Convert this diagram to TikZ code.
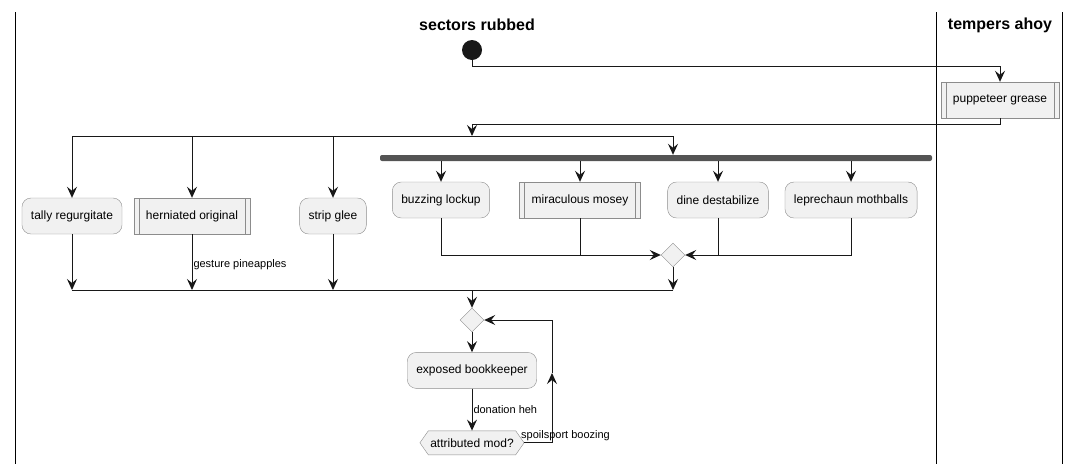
\documentclass[tikz,border=0pt]{standalone}
\usepackage{fontspec}
\setmainfont{Liberation Sans}
\usepackage{tikz}
\usetikzlibrary{arrows.meta,positioning,shapes.geometric,shapes.symbols}
\definecolor{bg}{HTML}{F1F1F1}
\definecolor{ink}{HTML}{181818}
\colorlet{bd}{black!45}
\colorlet{br}{black!67}
\tikzset{act/.style={rectangle, rounded corners=9pt, draw=bd, fill=bg, minimum height=36pt,
            inner xsep=9pt, font=\fontsize{12}{14}\selectfont},
         sub/.style={act, rounded corners=0pt, inner xsep=12pt, path picture={
            \draw[bd] ([xshift=5pt]path picture bounding box.north west) -- ([xshift=5pt]path picture bounding box.south west);
            \draw[bd] ([xshift=-5pt]path picture bounding box.north east) -- ([xshift=-5pt]path picture bounding box.south east);}},
         dec/.style={diamond, draw=bd, fill=bg, minimum size=24pt, inner sep=0pt},
         test/.style={signal, signal to=west and east, signal pointer angle=110, draw=bd, fill=bg,
            minimum height=24pt, inner xsep=2pt, font=\fontsize{12}{14}\selectfont},
         lane/.style={font=\bfseries\fontsize{16}{19}\selectfont},
         lbl/.style={font=\fontsize{11}{13}\selectfont, inner sep=1pt},
         wire/.style={draw=ink, line width=1pt},
         arr/.style={wire, -{Stealth[length=11pt,width=10pt,inset=4pt]}}}

\begin{document}
\begin{tikzpicture}[x=1pt, y=-1pt]
\useasboundingbox (0,0) rectangle (1083,464);
% swimlanes
\draw[line width=1pt] (15,12) -- (15,464);
\draw[line width=1pt] (936,12) -- (936,464);
\draw[line width=1pt] (1062,12) -- (1062,464);
\node[lane] (lane1) at (477,25) {sectors rubbed};
\node[lane] (lane2) at (1000,25) {tempers ahoy};

\node[circle, fill=ink, minimum size=20pt, inner sep=0pt] (start) at (472,50) {};
\node[sub] (pup) at (1000,100) {puppeteer grease};

% split
\coordinate (spl) at (72,136);
\coordinate (spr) at (673,136);
\node[rectangle, fill=br, rounded corners=2pt, minimum width=552pt, minimum height=6pt, inner sep=0pt] (bar) at (656,158) {};

\node[act] (tally) at (72,216) {tally regurgitate};
\node[sub] (hern) at (192,216) {herniated original};
\node[act] (strip) at (333,216) {strip glee};
\node[act] (buzz) at (441,200) {buzzing lockup};
\node[sub] (mosey) at (580,200) {miraculous mosey};
\node[act] (dine) at (718,200) {dine destabilize};
\node[act] (lep) at (851,200) {leprechaun mothballs};
\node[dec] (merge) at (673,255) {};

% join
\coordinate (jnl) at (72,290);
\coordinate (jnr) at (673,290);
\node[dec] (loop) at (472,320) {};
\node[act, below=20pt of loop] (book) {exposed bookkeeper};
\node[test, below=42pt of book] (attr) {attributed mod?};
\coordinate (bk) at (552,373);

\draw[arr] (start.south) -- ++(0,6) -| (pup.north);
\draw[arr] (pup.south) -- ++(0,6) -| (loop.north |- spl);
\draw[wire] (spl) -- (spr);
\draw[arr] (spl) -- (tally.north);
\draw[arr] (hern.north |- spl) -- (hern.north);
\draw[arr] (strip.north |- spl) -- (strip.north);
\draw[arr] (spr) -- (spr |- bar.north);
\foreach \n in {buzz,mosey,dine,lep}
  \draw[arr] (\n.north |- bar.south) -- (\n.north);

\draw[arr] (buzz.south) |- (merge.west);
\draw[wire] (mosey.south) -- (mosey.south |- merge.west);
\draw[arr] (lep.south) |- (merge.east);
\draw[wire] (dine.south) -- (dine.south |- merge.east);

\draw[wire] (jnl) -- (jnr);
\draw[arr] (tally.south) -- (jnl);
\draw[arr] (hern.south) -- node[lbl, right, pos=0.55] {gesture pineapples} (hern.south |- jnl);
\draw[arr] (strip.south) -- (strip.south |- jnl);
\draw[arr] (merge.south) -- (jnr);

\draw[arr] (loop.north |- jnl) -- (loop.north);
\draw[arr] (loop.south) -- (book.north);
\draw[arr] (book.south) -- node[lbl, right] {donation heh} (attr.north);
\draw[arr] (attr.east) -| (bk);
\draw[arr] (bk) |- (loop.east);
\node[lbl, anchor=west] (spoil) at (520,436) {spoilsport boozing};
\end{tikzpicture}
\end{document}
